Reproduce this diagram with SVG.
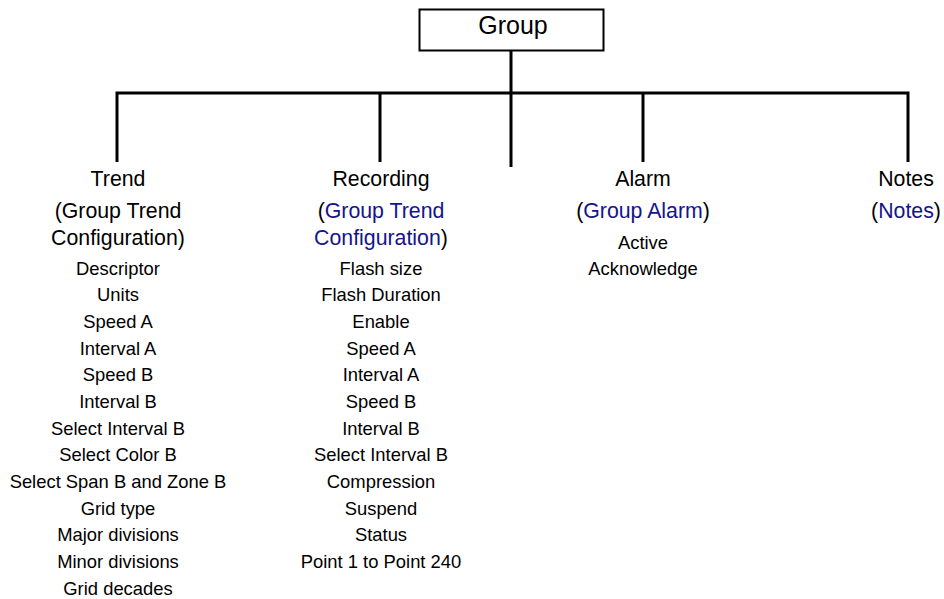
<svg xmlns="http://www.w3.org/2000/svg" width="944" height="599" viewBox="0 0 944 599">
<style>
text{font-family:"Liberation Sans",Arial,sans-serif;fill:#000;text-anchor:middle}
.h{font-size:21.3px}
.i{font-size:18.4px}
.b{fill:#14148c}
.ln{stroke:#000;stroke-width:3;fill:none}
</style>
<rect width="944" height="599" fill="#fff"/>
<g id="connectors">
<path class="ln" d="M511 50V167M116 93H909M117 91.5V162M380 91.5V162M643 91.5V162M908 91.5V162"/>
</g>
<g id="group">
<rect x="419.5" y="9.5" width="184" height="41" fill="#fff" stroke="#000" stroke-width="2"/>
<text x="513" y="34" style="font-size:25px">Group</text>
</g>
<g id="trend">
<text class="h" x="118" y="186">Trend</text>
<text class="h" x="118" y="218">(Group Trend</text>
<text class="h" x="118" y="245">Configuration)</text>
<text class="i" x="118" y="274.5">Descriptor</text>
<text class="i" x="118" y="301.2">Units</text>
<text class="i" x="118" y="327.8">Speed A</text>
<text class="i" x="118" y="354.5">Interval A</text>
<text class="i" x="118" y="381.2">Speed B</text>
<text class="i" x="118" y="407.8">Interval B</text>
<text class="i" x="118" y="434.5">Select Interval B</text>
<text class="i" x="118" y="461.2">Select Color B</text>
<text class="i" x="118" y="487.8">Select Span B and Zone B</text>
<text class="i" x="118" y="514.5">Grid type</text>
<text class="i" x="118" y="541.2">Major divisions</text>
<text class="i" x="118" y="567.8">Minor divisions</text>
<text class="i" x="118" y="594.5">Grid decades</text>
</g>
<g id="recording">
<text class="h" x="381" y="186">Recording</text>
<text class="h" x="381" y="218">(<tspan class="b">Group Trend</tspan></text>
<text class="h" x="381" y="245"><tspan class="b">Configuration</tspan>)</text>
<text class="i" x="381" y="274.5">Flash size</text>
<text class="i" x="381" y="301.2">Flash Duration</text>
<text class="i" x="381" y="327.8">Enable</text>
<text class="i" x="381" y="354.5">Speed A</text>
<text class="i" x="381" y="381.2">Interval A</text>
<text class="i" x="381" y="407.8">Speed B</text>
<text class="i" x="381" y="434.5">Interval B</text>
<text class="i" x="381" y="461.2">Select Interval B</text>
<text class="i" x="381" y="487.8">Compression</text>
<text class="i" x="381" y="514.5">Suspend</text>
<text class="i" x="381" y="541.2">Status</text>
<text class="i" x="381" y="567.8">Point 1 to Point 240</text>
</g>
<g id="alarm">
<text class="h" x="643" y="186">Alarm</text>
<text class="h" x="643" y="218">(<tspan class="b">Group Alarm</tspan>)</text>
<text class="i" x="643" y="248.5">Active</text>
<text class="i" x="643" y="274.5">Acknowledge</text>
</g>
<g id="notes">
<text class="h" x="906" y="186">Notes</text>
<text class="h" x="906" y="218">(<tspan class="b">Notes</tspan>)</text>
</g>
</svg>
